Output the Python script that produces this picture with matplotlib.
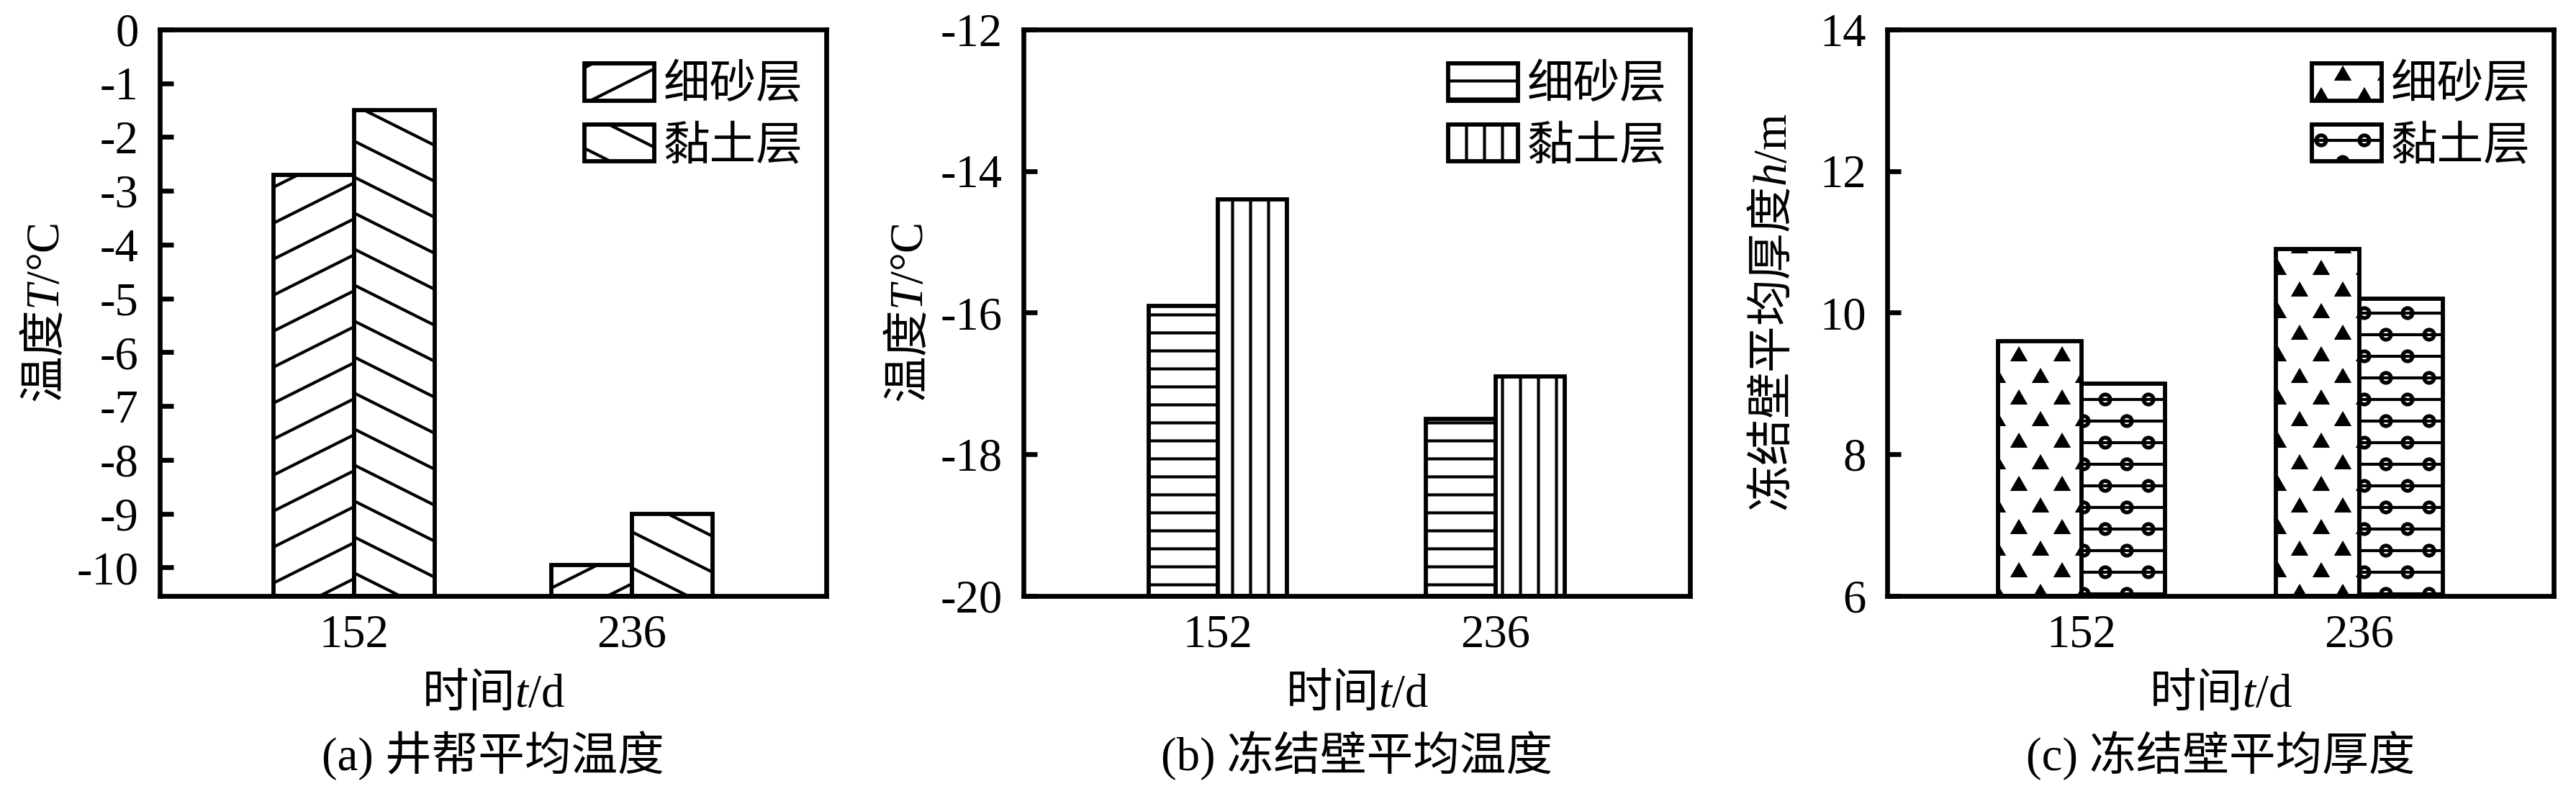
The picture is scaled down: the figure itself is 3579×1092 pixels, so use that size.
import numpy as np
import matplotlib
matplotlib.use('Agg')
import matplotlib.pyplot as plt
import matplotlib.hatch as mhatch
from matplotlib.path import Path

# data
days = ['152', '236']
layers = ['细砂层', '黏土层']
shaft_temp_sand = [-2.7, -9.95]
shaft_temp_clay = [-1.5, -9.0]
wall_temp_sand = [-15.9, -17.5]
wall_temp_clay = [-14.4, -16.9]
wall_thick_sand = [9.6, 10.9]
wall_thick_clay = [9.0, 10.2]


# custom hatches: shallow diagonals, staggered triangles, lines with circles
class ShallowDiagonal(mhatch.HatchPatternBase):
    def __init__(self, hatch, density):
        self.ne = '/' in hatch
        self.se = '\\' in hatch
        self.k = 6
        self.num_lines = (int(self.ne) + int(self.se)) * (self.k + 4)
        self.num_vertices = 2 * self.num_lines

    def set_vertices_and_codes(self, vertices, codes):
        segs = []
        if self.ne:
            for m in range(-3, self.k + 1):
                c = m / self.k
                segs += [(0.0, c), (1.0, c + 0.5)]
        if self.se:
            for m in range(0, self.k + 4):
                c = m / self.k
                segs += [(0.0, c), (1.0, c - 0.5)]
        vertices[:] = np.array(segs)
        codes[0::2] = Path.MOVETO
        codes[1::2] = Path.LINETO


class TriangleHatch(mhatch.HatchPatternBase):
    def __init__(self, hatch, density):
        self.n = 5 * hatch.count('*')
        tri = Path.unit_regular_polygon(3)
        self.sv = np.concatenate([tri.vertices * 0.033, tri.vertices[::-1] * 0.013])
        self.sc = np.concatenate([tri.codes, tri.codes])
        self.num_vertices = 2 * self.n * self.n * len(self.sv)

    def set_vertices_and_codes(self, vertices, codes):
        parts = []
        for j in range(self.n):
            for i in range(self.n):
                for dx, dy in ((0.25, 0.25), (0.75, 0.75)):
                    parts.append(self.sv + [(i + dx) / self.n, (j + dy) / self.n])
        vertices[:] = np.concatenate(parts)
        codes[:] = np.tile(self.sc, 2 * self.n * self.n)


class LineCircleHatch(mhatch.HatchPatternBase):
    def __init__(self, hatch, density):
        self.on = 'O' in hatch
        circ = Path.unit_circle()
        self.cv = np.concatenate([circ.vertices * 0.025, circ.vertices[::-1] * 0.021])
        self.cc = np.concatenate([circ.codes, circ.codes])
        self.rows, self.per = 10, 5
        if self.on:
            self.num_vertices = 2 * self.rows + self.rows * self.per * len(self.cv)
        else:
            self.num_vertices = 0

    def set_vertices_and_codes(self, vertices, codes):
        parts, cparts = [], []
        for j in range(self.rows):
            y = (j + 0.5) / self.rows
            parts.append(np.array([(0.0, y), (1.0, y)]))
            cparts.append(np.array([Path.MOVETO, Path.LINETO]))
            for i in range(self.per):
                x = (i + 0.25 + 0.5 * (j % 2)) / self.per
                parts.append(self.cv + [x, y])
                cparts.append(self.cc)
        vertices[:] = np.concatenate(parts)
        codes[:] = np.concatenate(cparts)


mhatch._hatch_types = [mhatch.HorizontalHatch, mhatch.VerticalHatch,
                       ShallowDiagonal, TriangleHatch, LineCircleHatch]

plt.rcParams['font.family'] = ['Liberation Serif', 'Noto Sans CJK SC']
plt.rcParams['font.size'] = 15.5
plt.rcParams['axes.unicode_minus'] = False
plt.rcParams['hatch.linewidth'] = 1.0
plt.rcParams['hatch.color'] = 'black'
# labels mixing Chinese and italic letters: Chinese from the text's own font,
# italic and Latin parts from Liberation Serif through mathtext
plt.rcParams['mathtext.fontset'] = 'custom'
plt.rcParams['mathtext.it'] = 'Liberation Serif:italic'
plt.rcParams['mathtext.rm'] = 'Liberation Serif'
plt.rcParams['mathtext.sf'] = 'Liberation Serif'
CJK = 'Noto Sans CJK SC'

panels = [
    dict(sand=shaft_temp_sand, clay=shaft_temp_clay, ylim=(-10.53, 0),
         yticks=np.arange(-10, 1, 1), width=0.29, hatches=('/', '\\'),
         ylabel=r'温度$T\mathsf{/°C}$', caption='(a) 井帮平均温度', left=0.0620),
    dict(sand=wall_temp_sand, clay=wall_temp_clay, ylim=(-20, -12),
         yticks=np.arange(-20, -11, 2), width=0.25, hatches=('--', '||'),
         ylabel=r'温度$T\mathsf{/°C}$', caption='(b) 冻结壁平均温度', left=0.3973),
    dict(sand=wall_thick_sand, clay=wall_thick_clay, ylim=(6, 14),
         yticks=np.arange(6, 15, 2), width=0.30, hatches=('*', 'O'),
         ylabel=r'冻结壁平均厚度$h\mathsf{/m}$', caption='(c) 冻结壁平均厚度', left=0.7326),
]

fig = plt.figure(figsize=(3579 / 300, 1092 / 300), dpi=300)
x = np.arange(len(days))

for p in panels:
    ax = fig.add_axes([p['left'], 0.2418, 0.2587, 0.7207])
    base = p['ylim'][0]
    w = p['width']
    for k, (vals, hatch) in enumerate(zip((p['sand'], p['clay']), p['hatches'])):
        ax.bar(x + (k - 0.5) * w, np.array(vals) - base, width=w, bottom=base,
               color='white', edgecolor='black', linewidth=1.4, hatch=hatch,
               label=layers[k])
    ax.set_xlim(-0.7, 1.7)
    ax.set_ylim(*p['ylim'])
    ax.set_xticks(x)
    ax.set_xticklabels(days)
    ax.set_yticks(p['yticks'])
    ax.set_yticklabels([f'{v:g}' for v in p['yticks']])
    ax.tick_params(axis='y', direction='in', length=4.5, width=1.6, pad=7)
    ax.tick_params(axis='x', length=0, pad=6)
    for s in ax.spines.values():
        s.set_linewidth(1.6)
    ax.set_ylabel(p['ylabel'], fontfamily=CJK)
    ax.yaxis.set_label_coords(-0.135, 0.5)
    ax.set_xlabel(r'时间$t\mathsf{/d}$', fontfamily=CJK)
    ax.xaxis.set_label_coords(0.5, -0.13)
    ax.text(0.5, -0.282, p['caption'], transform=ax.transAxes,
            ha='center', va='center')
    ax.legend(loc='upper right', bbox_to_anchor=(0.965, 0.94), frameon=False,
              borderpad=0, borderaxespad=0, handlelength=1.5, handleheight=0.85,
              handletextpad=0.2, labelspacing=0.35)

fig.savefig('out.png', dpi=300)
